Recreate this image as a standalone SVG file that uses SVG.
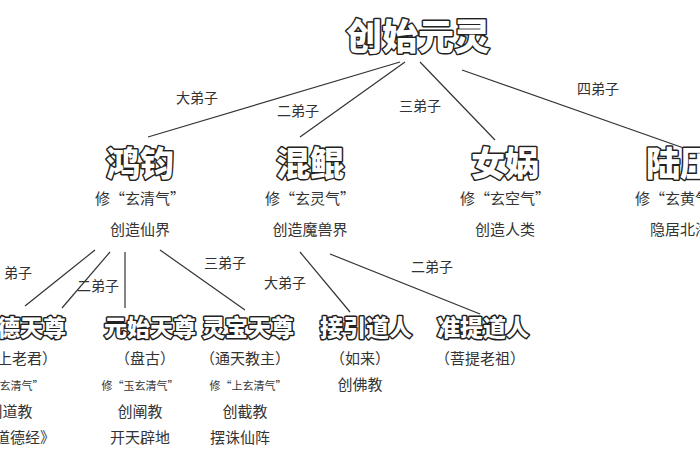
<svg xmlns="http://www.w3.org/2000/svg" width="700" height="470" viewBox="0 0 700 470">
<style>
text{font-family:"Noto Sans CJK SC","Noto Sans",sans-serif;text-anchor:middle;fill:#333}
.t{font-weight:900;fill:#fff;stroke:#222;stroke-width:3;paint-order:stroke;stroke-linejoin:round}
.t1{font-size:36px}.t2{font-size:34px}.t3{font-size:23px}
.s{font-size:15px}.x{font-size:11px}.l{font-size:14px}
#connectors line{stroke:#333;stroke-width:1.2}
</style>
<rect width="700" height="470" fill="#fff"/>
<g id="connectors">
<line x1="95" y1="250" x2="25" y2="306"/>
<line x1="110" y1="252" x2="62" y2="308"/>
<line x1="125" y1="252" x2="125" y2="308"/>
<line x1="160" y1="250" x2="245" y2="310"/>
<line x1="400" y1="62" x2="148" y2="137"/>
<line x1="405" y1="62" x2="300" y2="137"/>
<line x1="420" y1="62" x2="495" y2="140"/>
<line x1="462" y1="70" x2="695" y2="152"/>
<line x1="300" y1="252" x2="350" y2="312"/>
<line x1="330" y1="254" x2="480" y2="314"/>
<text class="l" x="18" y="278">弟子</text>
<text class="l" x="98" y="291">二弟子</text>
<text class="l" x="197" y="103">大弟子</text>
<text class="l" x="298" y="116">二弟子</text>
<text class="l" x="420" y="111">三弟子</text>
<text class="l" x="598" y="94">四弟子</text>
<text class="l" x="225" y="268">三弟子</text>
<text class="l" x="285" y="288">大弟子</text>
<text class="l" x="432" y="272">二弟子</text>
</g>
<g id="n0"><text class="t t1" x="418" y="50">创始元灵</text></g>
<g id="n1"><text class="t t2" x="140" y="176">鸿钧</text><text class="s" x="140" y="204">修“玄清气”</text><text class="s" x="140" y="235">创造仙界</text></g>
<g id="n2"><text class="t t2" x="310" y="176">混鲲</text><text class="s" x="310" y="204">修“玄灵气”</text><text class="s" x="310" y="235">创造魔兽界</text></g>
<g id="n3"><text class="t t2" x="505" y="176">女娲</text><text class="s" x="505" y="204">修“玄空气”</text><text class="s" x="505" y="235">创造人类</text></g>
<g id="n4"><text class="t t2" x="680" y="176">陆压</text><text class="s" x="680" y="204">修“玄黄气”</text><text class="s" x="680" y="235">隐居北海</text></g>
<g id="n5"><text class="t t3" x="20" y="336">道德天尊</text><text class="s" x="12" y="364">（太上老君）</text><text class="x" x="5" y="390">修“太玄清气”</text><text class="s" x="10" y="417">创道教</text><text class="s" x="10" y="443">著《道德经》</text></g>
<g id="n6"><text class="t t3" x="150" y="336">元始天尊</text><text class="s" x="145" y="364">（盘古）</text><text class="x" x="140" y="390">修“玉玄清气”</text><text class="s" x="140" y="417">创阐教</text><text class="s" x="140" y="443">开天辟地</text></g>
<g id="n7"><text class="t t3" x="248" y="336">灵宝天尊</text><text class="s" x="245" y="364">（通天教主）</text><text class="x" x="248" y="390">修“上玄清气”</text><text class="s" x="245" y="417">创截教</text><text class="s" x="240" y="443">摆诛仙阵</text></g>
<g id="n8"><text class="t t3" x="366" y="336">接引道人</text><text class="s" x="360" y="364">（如来）</text><text class="s" x="360" y="390">创佛教</text></g>
<g id="n9"><text class="t t3" x="483" y="336">准提道人</text><text class="s" x="480" y="364">（菩提老祖）</text></g>
</svg>
